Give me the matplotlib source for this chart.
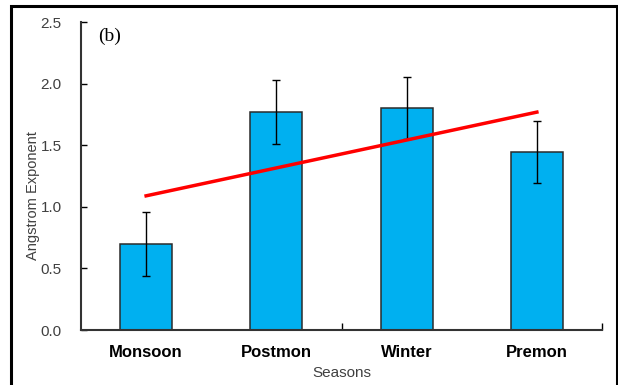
import numpy as np
import matplotlib.pyplot as plt
from matplotlib.patches import Rectangle

# valori medi stagionali dell'esponente di Angstrom e deviazioni
seasons = ['Monsoon', 'Postmon', 'Winter', 'Premon']
alpha = [0.70, 1.77, 1.80, 1.445]
err = [0.26, 0.26, 0.25, 0.255]

x = np.arange(1, len(seasons) + 1)

# retta di tendenza lineare sui valori medi
p = np.polyfit(x, alpha, 1)

plt.rcParams['font.family'] = ['Liberation Sans', 'DejaVu Sans']

fig = plt.figure(figsize=(6.18, 3.85), dpi=100)
ax = fig.add_axes([81/618, 55/385, 521/618, 308/385])

ax.bar(x, alpha, width=0.4, color='#00B0F0', edgecolor='#2b2b2b', linewidth=1.1, zorder=2)
ax.errorbar(x, alpha, yerr=err, fmt='none', ecolor='black', elinewidth=1,
            capsize=3, capthick=1, zorder=3)
ax.plot(x, np.polyval(p, x), color='red', lw=2.5, zorder=4)

ax.set_xlim(0.5, 4.5)
ax.set_ylim(0, 2.5)
ax.set_yticks(np.arange(0, 2.51, 0.5))
ax.set_yticklabels(['%.1f' % v for v in np.arange(0, 2.51, 0.5)], color='#404040', fontsize=11)
ax.tick_params(axis='y', direction='in', length=4, width=1, pad=14)

# etichette delle categorie senza tacche, tacche solo tra le categorie
ax.set_xticks([2.5, 4.5])
ax.set_xticklabels([])
ax.tick_params(axis='x', direction='in', length=5, width=1)
for xi, s in zip(x, seasons):
    ax.text(xi, -0.18, s, ha='center', va='center', fontsize=12, fontweight='bold')

ax.text(2.5, -0.345, 'Seasons', ha='center', va='center', fontsize=11, color='#404040')
ax.set_ylabel('Angstrom Exponent', fontsize=10.5, color='#404040')
ax.yaxis.set_label_coords(-0.079, 0.435)

for side in ['top', 'right']:
    ax.spines[side].set_visible(False)
for side in ['left', 'bottom']:
    ax.spines[side].set_linewidth(1.5)
    ax.spines[side].set_color('#333333')

ax.text(0.63, 2.38, '(b)', family='Liberation Serif', fontsize=14, ha='left', va='center')

# cornice esterna
fig.patches.append(Rectangle((11/618, -0.05), 606/618, 1.05 - 6/385, transform=fig.transFigure,
                             fill=False, edgecolor='black', lw=2.2))

plt.savefig('out.png', dpi=100)
